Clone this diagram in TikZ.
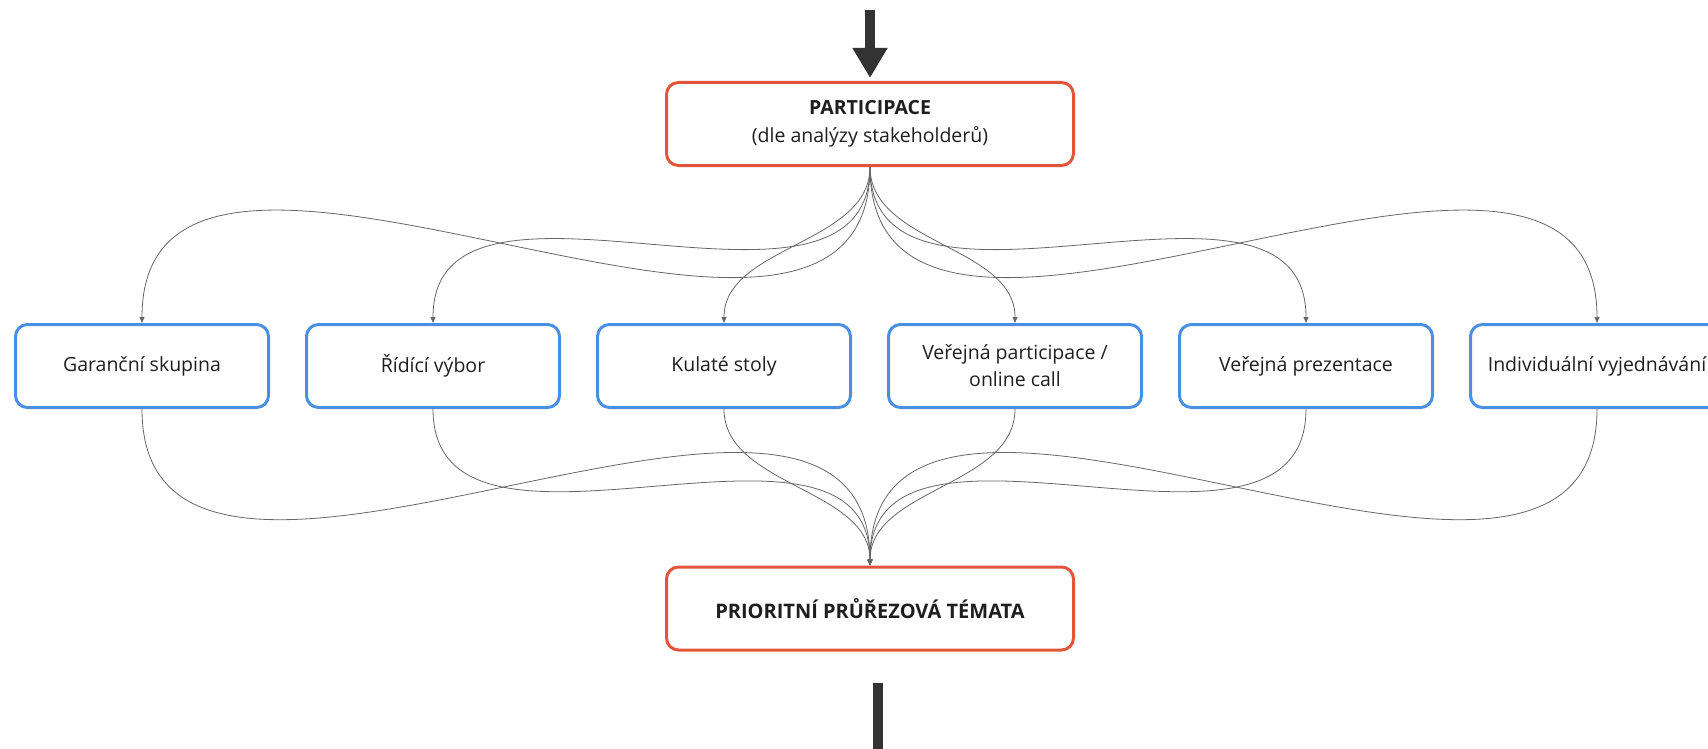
\documentclass[tikz,border=0pt]{standalone}
\usepackage{fontspec}
\setmainfont{Open Sans}
\usetikzlibrary{arrows.meta}
\definecolor{boxred}{HTML}{E2553B}
\definecolor{boxblue}{HTML}{4A90E2}
\definecolor{ink}{HTML}{1E1E1E}
\begin{document}
\begin{tikzpicture}[
x=1pt,y=-1pt,
>={Triangle[length=6pt,width=5pt]},
line/.style={draw,->,line width=0.8pt,color=black!60},
bigl/.style={draw,line width=10pt,color=black!80},
main/.style={draw=boxred,line width=3pt,rounded corners=12pt,minimum width=407pt,minimum height=83pt,align=center,text=ink,font=\fontsize{19.5}{28}\selectfont},
part/.style={draw=boxblue,line width=3pt,rounded corners=12pt,minimum width=253pt,minimum height=83pt,align=center,text=ink,font=\fontsize{19.5}{27}\selectfont},
]
\path[use as bounding box,clip] (0,0) rectangle (1708,749);

\node[main] (part) at (870,124) {\textbf{PARTICIPACE}\\(dle analýzy stakeholderů)};
\node[main] (prio) at (870,608.5) {\fontsize{20}{28}\selectfont\textbf{PRIORITNÍ PRŮŘEZOVÁ TÉMATA}};

\node[part] (gs) at (142,366) {Garanční skupina};
\node[part] (rv) at (433,366) {Řídící výbor};
\node[part] (ks) at (724,366) {Kulaté stoly};
\node[part] (vp) at (1015,366) {Veřejná participace /\\online call};
\node[part] (vpr) at (1306,366) {Veřejná prezentace};
\node[part] (iv) at (1597,366) {Individuální vyjednávání};

\coordinate (in) at (870,10);
\coordinate (outtop) at (878,683);
\coordinate (outbot) at (878,760);

%incoming and outgoing
\path[bigl,-{Triangle[length=30pt,width=33pt]}] (in) -- ([yshift=3pt]part.north);
\path[bigl] (outtop) -- (outbot);

%fan out
\path[line] (part.south) .. controls +(0,304) and +(0,-304) .. (gs.north);
\path[line] (part.south) .. controls +(0,190) and +(0,-190) .. (rv.north);
\path[line] (part.south) .. controls +(0,77) and +(0,-77) .. (ks.north);
\path[line] (part.south) .. controls +(0,77) and +(0,-77) .. (vp.north);
\path[line] (part.south) .. controls +(0,190) and +(0,-190) .. (vpr.north);
\path[line] (part.south) .. controls +(0,304) and +(0,-304) .. (iv.north);

%fan in
\path[line] (gs.south) .. controls +(0,304) and +(0,-304) .. (prio.north);
\path[line] (rv.south) .. controls +(0,190) and +(0,-190) .. (prio.north);
\path[line] (ks.south) .. controls +(0,77) and +(0,-77) .. (prio.north);
\path[line] (vp.south) .. controls +(0,77) and +(0,-77) .. (prio.north);
\path[line] (vpr.south) .. controls +(0,190) and +(0,-190) .. (prio.north);
\path[line] (iv.south) .. controls +(0,304) and +(0,-304) .. (prio.north);

\end{tikzpicture}
\end{document}
